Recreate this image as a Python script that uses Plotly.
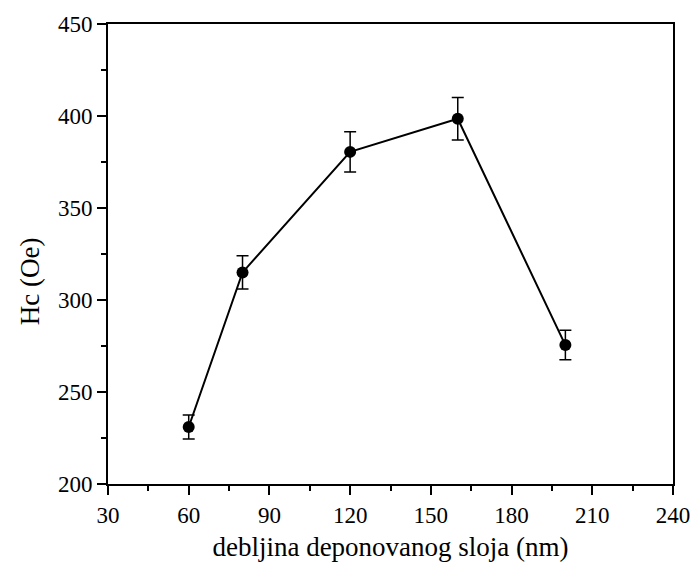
import plotly.graph_objects as go

thickness = [60, 80, 120, 160, 200]
hc = [231, 315, 380.5, 398.5, 275.5]
hc_err = [6.5, 9, 11, 11.5, 8]

x_ticks = [30, 60, 90, 120, 150, 180, 210, 240]
y_ticks = [200, 250, 300, 350, 400, 450]

font_family = "Liberation Serif, Times New Roman, serif"

fig = go.Figure()
fig.add_trace(go.Scatter(
    x=thickness, y=hc,
    mode="lines+markers",
    line=dict(color="black", width=2),
    marker=dict(color="black", size=12),
    error_y=dict(type="data", array=hc_err, visible=True,
                 color="black", thickness=1.5, width=6),
    showlegend=False,
))

axis_common = dict(
    showline=True, linecolor="black", linewidth=2, mirror=True,
    ticks="outside", ticklen=9, tickwidth=2, tickcolor="black",
    showgrid=False, zeroline=False, automargin=False,
    tickfont=dict(family=font_family, size=23, color="black"),
)

fig.update_xaxes(
    range=[30, 240], tickvals=x_ticks, ticktext=[str(v) for v in x_ticks],
    minor=dict(ticks="outside", ticklen=5, tickwidth=2, tickcolor="black", dtick=15, tick0=30),
    title=dict(text="debljina deponovanog sloja (nm)",
               font=dict(family=font_family, size=27, color="black"), standoff=11),
    **axis_common,
)
fig.update_yaxes(
    range=[200, 450], tickvals=y_ticks, ticktext=[str(v) for v in y_ticks],
    minor=dict(ticks="outside", ticklen=5, tickwidth=2, tickcolor="black", dtick=25, tick0=200),
    **axis_common,
)

fig.add_annotation(
    text="Hc (Oe)", xref="paper", yref="paper", x=-0.138, y=0.441,
    xanchor="center", yanchor="middle", textangle=-90, showarrow=False,
    font=dict(family=font_family, size=27, color="black"),
)

fig.update_layout(
    width=694, height=564,
    margin=dict(l=108, r=21, t=24, b=80),
    plot_bgcolor="white", paper_bgcolor="white",
)

fig.write_html("out.html",
               config={"displayModeBar": False},
               post_script="document.body.style.margin='0';document.body.style.overflow='hidden';")
